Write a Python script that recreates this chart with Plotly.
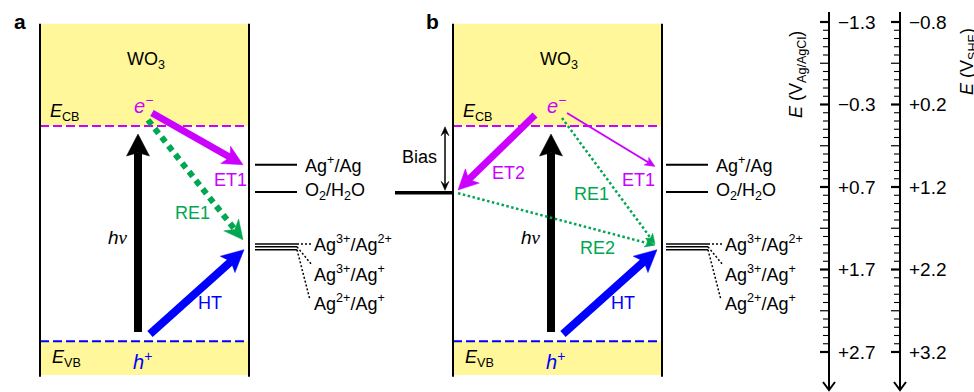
import numpy as np
import plotly.graph_objects as go

# ---------------- data (potentials in V vs Ag/AgCl) ----------------
band_labels = ["<i>E</i><sub>CB</sub>", "<i>E</i><sub>VB</sub>"]
band_potentials = [-0.04, 2.57]          # WO3 conduction / valence band edges
box_limits = [-1.28, 2.98]               # drawn extent of the WO3 box
redox_labels = ["Ag<sup>+</sup>/Ag", "O<sub>2</sub>/H<sub>2</sub>O",
                "Ag<sup>3+</sup>/Ag<sup>2+</sup>", "Ag<sup>3+</sup>/Ag<sup>+</sup>",
                "Ag<sup>2+</sup>/Ag<sup>+</sup>"]
redox_potentials = [0.43, 0.76, 1.39, 1.425, 1.46]
bias_potential = 0.77
agcl_tick_values = [-1.3, -0.3, 0.7, 1.7, 2.7]
agcl_tick_text = ["\u22121.3", "\u22120.3", "+0.7", "+1.7", "+2.7"]
she_tick_text = ["\u22120.8", "+0.2", "+1.2", "+2.2", "+3.2"]

# ---------------- styling ----------------
W, H = 974, 392
PXV = 82.5          # pixels per volt
Y_REF = 22          # pixel row of -1.3 V
MAG = "#CC00FF"
GRN = "#00A651"
BLU = "#0000FF"
YEL = "#FFF79A"
FONT = "Liberation Sans, Arial, sans-serif"
FS = 18


def v2p(v):
    return Y_REF + (v + 1.3) * PXV


def p2v(y):
    return -1.3 + (y - Y_REF) / PXV


ECB, EVB = band_potentials
TOP, BOT = box_limits

fig = go.Figure()
shapes = []
ann = []


def text(x, ypx, s, color="black", size=FS, xanchor="center", angle=0, bold=False):
    if bold:
        s = "<b>" + s + "</b>"
    ann.append(dict(x=x, y=p2v(ypx), xref="x", yref="y", text=s, showarrow=False,
                    font=dict(color=color, size=size, family=FONT), xanchor=xanchor,
                    yanchor="middle", textangle=angle))


def arrow(x0, v0, x1, v1, color, w, hl, hw, dash="solid", notch=0.8, both=False):
    p0 = np.array([x0, v2p(v0)], float)
    p1 = np.array([x1, v2p(v1)], float)
    d = (p1 - p0) / np.linalg.norm(p1 - p0)
    n = np.array([-d[1], d[0]])
    s1 = p1 - d * hl * notch
    s0 = p0 + d * hl * notch if both else p0
    shapes.append(dict(type="line", xref="x", yref="y", x0=s0[0], y0=p2v(s0[1]),
                       x1=s1[0], y1=p2v(s1[1]), line=dict(color=color, width=w, dash=dash)))
    heads = [(p1, d)] + ([(p0, -d)] if both else [])
    for tip, dd in heads:
        base = tip - dd * hl
        nch = tip - dd * hl * notch
        pts = [tip, base + n * hw / 2, nch, base - n * hw / 2]
        path = "M " + " L ".join(f"{p[0]:.2f},{p2v(p[1]):.4f}" for p in pts) + " Z"
        shapes.append(dict(type="path", xref="x", yref="y", path=path, fillcolor=color,
                           line=dict(color=color, width=0.5)))


panels = [dict(name="a", left=40, right=249, lx0=255, lx1=297),
          dict(name="b", left=453, right=662, lx0=666, lx1=708)]

for k, pn in enumerate(panels):
    L, R = pn["left"], pn["right"]
    # yellow band regions
    shapes.append(dict(type="rect", xref="x", yref="y", x0=L, x1=R, y0=TOP, y1=ECB,
                       fillcolor=YEL, line=dict(width=0), layer="below"))
    shapes.append(dict(type="rect", xref="x", yref="y", x0=L, x1=R, y0=EVB, y1=BOT,
                       fillcolor=YEL, line=dict(width=0), layer="below"))
    # band edges
    fig.add_trace(go.Scatter(x=[L, R], y=[ECB, ECB], mode="lines", hoverinfo="skip",
                             line=dict(color=MAG, width=2, dash="9px,4px"), showlegend=False))
    fig.add_trace(go.Scatter(x=[L, R], y=[EVB, EVB], mode="lines", hoverinfo="skip",
                             line=dict(color=BLU, width=2, dash="9px,4px"), showlegend=False))
    # box walls
    for xw in (L, R):
        fig.add_trace(go.Scatter(x=[xw, xw], y=[TOP, BOT + 0.02], mode="lines", hoverinfo="skip",
                                 line=dict(color="black", width=2), showlegend=False))
    # redox levels
    lx0, lx1 = pn["lx0"], pn["lx1"]
    for i, v in enumerate(redox_potentials):
        wdt = 2 if i < 2 else 1.6
        fig.add_trace(go.Scatter(x=[lx0, lx1], y=[v, v], mode="lines", hoverinfo="skip",
                                 line=dict(color="black", width=wdt), showlegend=False))
    text(lx1 + 6, v2p(redox_potentials[0]), redox_labels[0], xanchor="left")
    text(lx1 + 6, v2p(redox_potentials[1]), redox_labels[1], xanchor="left")
    lab_y = [243, 273, 302]
    ends = [(lx1 + 14, 244), (lx1 + 15, 265), (lx1 + 13, 300)]
    for j in range(3):
        v = redox_potentials[2 + j]
        fig.add_trace(go.Scatter(x=[lx1, ends[j][0]], y=[v, p2v(ends[j][1])], mode="lines",
                                 hoverinfo="skip", line=dict(color="black", width=1.5, dash="2px,2px"),
                                 showlegend=False))
        text(lx1 + 15, lab_y[j], redox_labels[2 + j], xanchor="left")

    # texts inside the box
    text(L + 106, 60, "WO<sub>3</sub>")
    text(L + 25, 112, band_labels[0])
    text(L + 26, 358, band_labels[1])
    text(L + 103, 104, "<i>e</i><sup>\u2212</sup>", color=MAG, size=20)
    text(L + 102, 360, "<i>h</i><sup>+</sup>", color=BLU, size=20)
    text(L + 78, 237, "<i>h</i><i><span style='font-family:Liberation Serif'>\u03bd</span></i>", size=19)
    # photon arrow
    arrow(L + 98, p2v(332), L + 98, p2v(134), "black", 8, 22, 23, notch=0.85)
    # hole transfer
    arrow(L + 110, p2v(334), R - 5, redox_potentials[4], BLU, 8, 22, 22, notch=0.8)
    text(L + 170, 303, "HT", color=BLU)
    text(20 if k == 0 else 432, 21, pn["name"], size=21, bold=True)

# ---- panel a arrows ----
La, Ra = panels[0]["left"], panels[0]["right"]
arrow(La + 112, p2v(113), Ra - 6, redox_potentials[0], MAG, 7, 20, 20, notch=0.75)
text(La + 190, 180, "ET1", color=MAG)
arrow(La + 108, p2v(120), Ra - 6, redox_potentials[2] - 0.05, GRN, 6, 19, 19, dash="6px,5px", notch=0.7)
text(La + 152, 213, "RE1", color=GRN)

# ---- panel b arrows ----
Lb, Rb = panels[1]["left"], panels[1]["right"]
fig.add_trace(go.Scatter(x=[395, Lb], y=[bias_potential, bias_potential], mode="lines",
                         hoverinfo="skip", line=dict(color="black", width=3.5), showlegend=False))
arrow(445, ECB + 0.01, 445, bias_potential - 0.03, "black", 1.5, 9, 8, notch=0.6, both=True)
text(419, 157, "Bias")
arrow(Lb + 82, p2v(115), Lb + 5, bias_potential - 0.035, MAG, 7, 20, 20, notch=0.75)
text(Lb + 55, 173, "ET2", color=MAG)
arrow(Lb + 114, p2v(113), Rb - 7, redox_potentials[0] + 0.02, MAG, 2, 10, 9, notch=0.75)
text(Lb + 185, 180, "ET1", color=MAG)
arrow(Lb + 109, p2v(118), Rb - 7, redox_potentials[2], GRN, 2.5, 10, 9, dash="2.5px,2.5px", notch=0.75)
text(Lb + 138, 194, "RE1", color=GRN)
arrow(Lb + 5, bias_potential + 0.005, Rb - 7, redox_potentials[2] + 0.015, GRN, 2.5, 10, 9,
      dash="2.5px,2.5px", notch=0.75)
text(Lb + 144, 248, "RE2", color=GRN)

# ---------------- potential axes ----------------
minor_vals = np.round(np.arange(-1.3, 2.7001, 0.1), 2)
for ax_x, labels in ((829, agcl_tick_text), (900, she_tick_text)):
    fig.add_trace(go.Scatter(x=[ax_x, ax_x], y=[p2v(12), p2v(390)], mode="lines", hoverinfo="skip",
                             line=dict(color="black", width=2), showlegend=False))
    shapes.append(dict(type="path", xref="x", yref="y",
                       path=f"M {ax_x-6},{p2v(382):.4f} L {ax_x},{p2v(390):.4f} L {ax_x+6},{p2v(382):.4f}",
                       line=dict(color="black", width=2)))
    for t in minor_vals:
        rel = round((t + 1.3) * 10) % 10
        if rel == 0:
            ln, wd = 9, 2.2
        elif rel == 5:
            ln, wd = 9, 1.2
        else:
            ln, wd = 6, 1.1
        shapes.append(dict(type="line", xref="x", yref="y", x0=ax_x - ln, x1=ax_x, y0=t, y1=t,
                           line=dict(color="black", width=wd)))
    for tv, tt in zip(agcl_tick_values, labels):
        ann.append(dict(x=ax_x + 7, y=tv, xref="x", yref="y", text=tt, showarrow=False,
                        xanchor="left", yanchor="middle", font=dict(size=19, family=FONT, color="black")))

ann.append(dict(x=797, y=p2v(75), xref="x", yref="y", text="<i>E</i> (V<sub>Ag/AgCl</sub>)",
                showarrow=False, textangle=-90, font=dict(size=18, family=FONT, color="black"),
                xanchor="center", yanchor="middle"))
ann.append(dict(x=968, y=p2v(62), xref="x", yref="y", text="<i>E</i> (V<sub>SHE</sub>)",
                showarrow=False, textangle=-90, font=dict(size=18, family=FONT, color="black"),
                xanchor="center", yanchor="middle"))

fig.update_layout(
    width=W, height=H, margin=dict(l=0, r=0, t=0, b=0),
    paper_bgcolor="white", plot_bgcolor="white", showlegend=False,
    xaxis=dict(range=[0, W], visible=False, fixedrange=True),
    yaxis=dict(range=[p2v(H), p2v(0)], visible=False, fixedrange=True),
    shapes=shapes, annotations=ann, font=dict(family=FONT),
)
fig.write_html("out.html", config={"displayModeBar": False},
               post_script="document.body.style.margin='0';document.body.style.overflow='hidden';")
